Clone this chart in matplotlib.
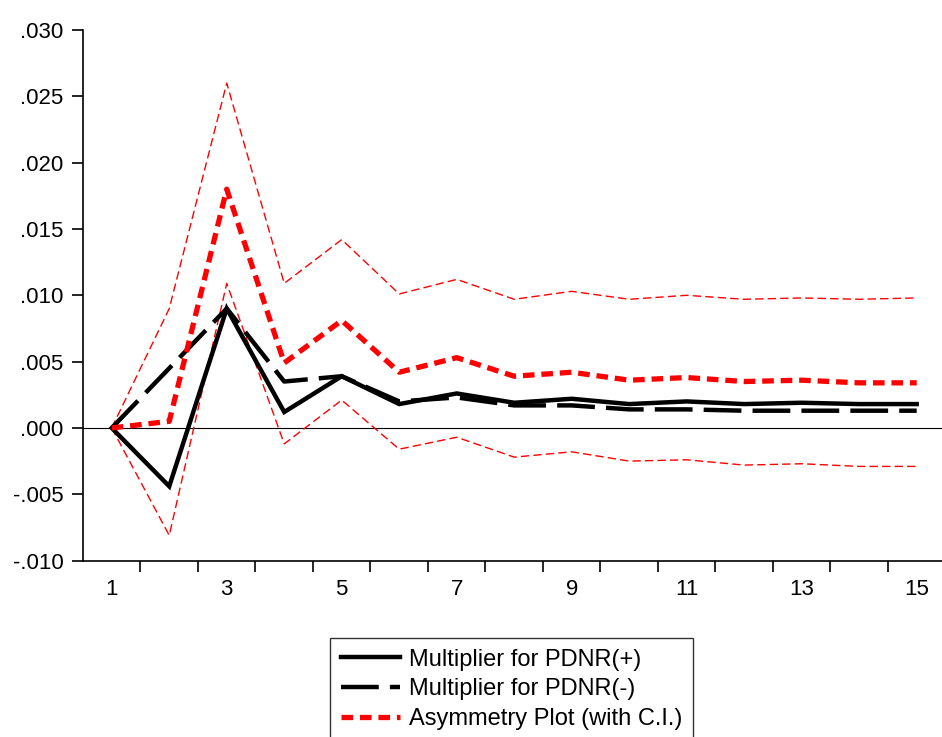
import matplotlib.pyplot as plt
from matplotlib.ticker import FuncFormatter, FixedLocator

plt.rcParams["font.family"] = ["Liberation Sans", "DejaVu Sans"]

# --------------------------------------------------
# data
# --------------------------------------------------

periods = list(range(1, 16))

mult_pos = [0.0, -0.0044, 0.0090, 0.0012, 0.0039, 0.0018, 0.0026, 0.0019,
            0.0022, 0.0018, 0.0020, 0.0018, 0.0019, 0.0018, 0.0018]
mult_neg = [0.0, 0.0045, 0.0090, 0.0035, 0.0039, 0.0020, 0.0023, 0.0017,
            0.0017, 0.0014, 0.0014, 0.0013, 0.0013, 0.0013, 0.0013]
asym = [0.0, 0.0005, 0.0180, 0.0049, 0.0081, 0.0042, 0.0053, 0.0039,
        0.0042, 0.0036, 0.0038, 0.0035, 0.0036, 0.0034, 0.0034]
ci_upper = [0.0, 0.0090, 0.0260, 0.0109, 0.0142, 0.0101, 0.0112, 0.0097,
            0.0103, 0.0097, 0.0100, 0.0097, 0.0098, 0.0097, 0.0098]
ci_lower = [0.0, -0.0081, 0.0109, -0.0012, 0.0021, -0.0016, -0.0007, -0.0022,
            -0.0018, -0.0025, -0.0024, -0.0028, -0.0027, -0.0029, -0.0029]

y_ticks = [-0.010, -0.005, 0.000, 0.005, 0.010, 0.015, 0.020, 0.025, 0.030]
x_labels = [1, 3, 5, 7, 9, 11, 13, 15]

# --------------------------------------------------
# plot
# --------------------------------------------------

fig = plt.figure(figsize=(9.42, 7.37), dpi=100)
ax = fig.add_axes([83 / 942, 1 - 560.6 / 737, 859 / 942, 530.6 / 737])

ax.axhline(0, color="black", lw=0.8, zorder=1)

ax.plot(periods, ci_upper, color="red", lw=1.0, dashes=(6, 3))
ax.plot(periods, ci_lower, color="red", lw=1.0, dashes=(6, 3))
l1, = ax.plot(periods, mult_pos, color="black", lw=3.2, solid_joinstyle="miter",
              label="Multiplier for PDNR(+)")
l2, = ax.plot(periods, mult_neg, color="black", lw=3.2, dashes=(8.5, 2.5),
              label="Multiplier for PDNR(-)")
l3, = ax.plot(periods, asym, color="red", lw=3.8, dashes=(2.2, 1.3),
              label="Asymmetry Plot (with C.I.)")

ax.set_xlim(0.5, 15.44)
ax.set_ylim(-0.010, 0.030)

ax.set_yticks(y_ticks)
ax.yaxis.set_major_formatter(FuncFormatter(
    lambda v, p: ("-" if v < -1e-12 else "") + ("%.3f" % abs(v))[1:]))

ax.xaxis.set_major_locator(FixedLocator([p + 0.5 for p in periods[:-1]]))
ax.set_xticklabels([])
ax.set_xticks(x_labels, minor=True)
ax.set_xticklabels([str(v) for v in x_labels], minor=True)
ax.tick_params(axis="x", which="minor", length=0, labelsize=16, pad=13)
ax.tick_params(axis="x", which="major", length=8, width=1.2, direction="out")
ax.tick_params(axis="y", length=8, width=1.2, direction="out", labelsize=16,
               pad=6)

for s in ["top", "right"]:
    ax.spines[s].set_visible(False)
for s in ["left", "bottom"]:
    ax.spines[s].set_linewidth(1.2)

leg = fig.legend(handles=[l1, l2, l3], loc="upper left",
                 bbox_to_anchor=(330 / 942, 1 - 638 / 737),
                 fontsize=17, frameon=True, fancybox=False,
                 handlelength=2.5, handletextpad=0.4, labelspacing=0.33,
                 borderpad=0.45, borderaxespad=0)
leg.get_frame().set_edgecolor("black")
leg.get_frame().set_linewidth(1.0)

plt.savefig("out.png", dpi=100)
